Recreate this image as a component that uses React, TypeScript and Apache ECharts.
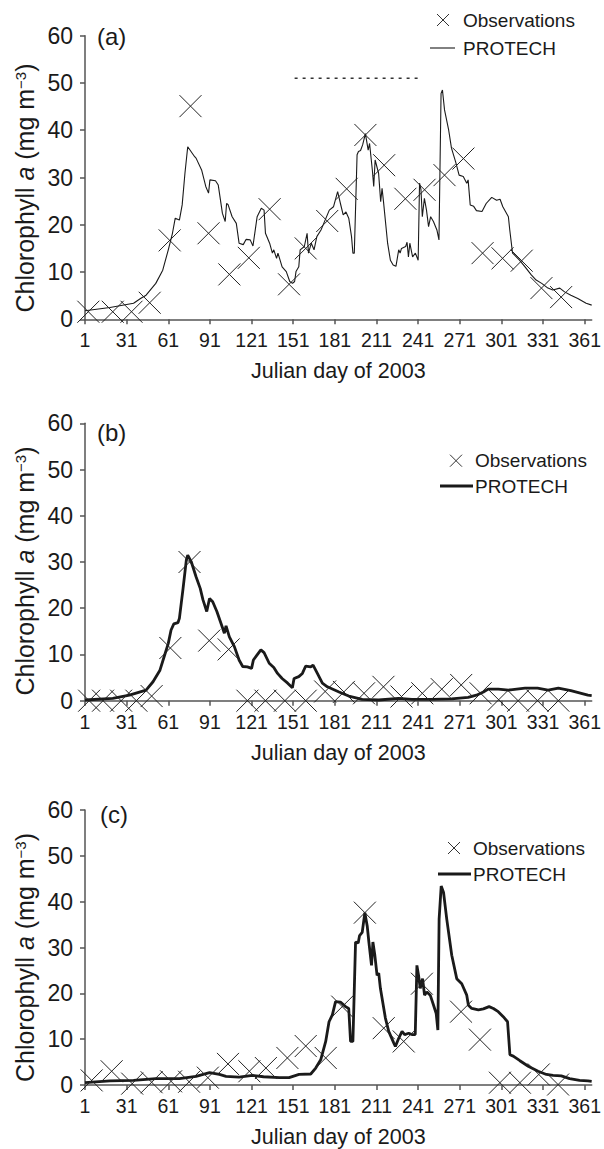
import React, { useEffect, useRef } from "react";
import * as echarts from "echarts";

const FONT = "'Liberation Sans', Arial, Helvetica, sans-serif";

const dayTicks = [1, 31, 61, 91, 121, 151, 181, 211, 241, 271, 301, 331, 361];
const panelLabels = ["(a)", "(b)", "(c)"];
const xTitle = "Julian day of 2003";
const legendObs = "Observations";
const legendModel = "PROTECH";

// Panel (a)
const modelA: [number, number][] = [
  [1, 1.8], [19, 2.5], [36, 3.4], [41, 4.4], [45, 5.1], [52, 7.6], [57, 10.4], [61, 14.7], [64, 18.2], [66, 21.4], [69, 21.0],
  [71, 24.2], [73, 30.9], [75, 36.5], [80, 34.4], [81, 34.1], [85, 31.6], [88, 28.1], [90, 26.7], [91, 29.5],
  [95, 29.3], [97, 28.4], [100, 22.4], [102, 20.7], [103, 24.5], [104, 24.3], [107, 21.7], [110, 20.3], [112, 16.1],
  [115, 15.8], [117, 16.9], [120, 16.8], [122, 15.5], [125, 21.7], [128, 23.5], [130, 23.1], [131, 18.2], [134, 16.1],
  [136, 14.0], [137, 14.7], [139, 12.9], [140, 14.0], [143, 11.1], [146, 10.1], [148.5, 8.0], [150.5, 7.6], [152, 8.0],
  [153, 10.1], [155, 11.1], [156, 14.7], [159, 15.4], [161, 18.2], [162, 14.0], [164, 16.1], [166, 14.7], [168, 17.5],
  [171, 18.9], [173, 20.3], [177, 23.1], [180, 23.8], [183, 27.0], [185, 24.5], [187, 22.1], [189, 22.7], [191, 21.4],
  [193, 17.5], [194, 14.0], [195, 14.0], [197, 34.8], [198, 35.5], [199.5, 35.7], [201, 36.9], [203, 39.3], [205, 35.8],
  [206, 37.2], [208, 31.6], [209, 28.1], [210, 33.7], [212.5, 30.9], [214, 24.9], [215, 27.7], [216, 25.0], [219, 16.1],
  [221, 12.5], [223, 11.5], [225, 11.2], [227, 14.7], [228, 14.0], [229, 15.0], [232, 15.4], [233, 16.3], [234, 13.2],
  [235, 16.1], [237, 13.2], [239, 14.0], [241, 12.5], [242, 28.8], [243, 27.5], [244, 21.7], [245.5, 25.6], [247, 23.1],
  [248.5, 19.6], [250, 21.7], [252, 20.7], [254.5, 18.9], [256, 16.8], [257.5, 47.8], [258.5, 48.5], [260, 44.3],
  [263, 40.0], [265, 36.2], [268, 33.3], [270.5, 30.5], [273.5, 30.2], [276, 28.8], [277, 29.5], [278.5, 24.2],
  [281, 23.9], [283, 23.0], [287, 22.8], [290, 24.5], [294, 25.8], [297.5, 25.2], [300, 25.4], [302, 23.8], [306, 21.7],
  [307, 18.9], [309, 14.0], [310.5, 13.6], [314, 12.5], [318, 11.1], [322.5, 9.4], [326, 8.3], [330, 7.6], [334.5, 6.6],
  [338, 6.2], [343, 6.6], [346.5, 5.8], [351, 5.1], [356, 4.4], [362, 3.4], [366, 3.0],
];
const obsA: [number, number][] = [
  [3.4, 1.6], [21, 1.6], [34.5, 1.6], [47.6, 3.5], [62, 16.7], [77, 45.1], [90, 18.2], [105, 9.5], [119, 13.0],
  [134, 23.3], [148, 7.4], [160, 15.0], [175.5, 20.8], [189.5, 27.6], [203, 39.0], [216.5, 32.6], [231.8, 25.5],
  [245.6, 27.4], [260, 30.5], [273.6, 34.0], [287.4, 14.0], [301.8, 12.9], [315.6, 12.4], [329.8, 6.6], [344, 4.7],
];
const dashedDaysA = [152, 243];
const dashedLevelA = 51;

// Panel (b)
const modelB: [number, number][] = [
  [1, 0.15], [21, 0.5], [33, 1.2], [45, 2.3], [50, 4.1], [55, 6.6], [58, 9.5], [61, 12.4], [63, 15.3], [65, 16.6],
  [68, 16.9], [69, 17.8], [71.5, 23.9], [74, 30.4], [75, 31.5], [77.5, 30.1], [81, 26.8], [84, 24.3], [86, 21.8],
  [88.7, 19.3], [90.7, 22.1], [93, 21.4], [96, 19.3], [99, 16.7], [101.4, 14.6], [102.6, 16.2], [105, 13.8],
  [108.6, 11.7], [112, 8.8], [114.6, 7.4], [118, 7.3], [121, 7.0], [122.3, 8.8], [125, 9.9], [127.7, 11.0], [130, 10.4],
  [133.7, 8.1], [137, 7.2], [139.7, 5.9], [143, 4.8], [147, 3.8], [150.4, 2.8], [151.6, 4.8], [155, 5.2], [157.6, 5.9],
  [160, 7.5], [163.6, 7.3], [165.3, 7.7], [168.4, 5.9], [172, 3.8], [175.6, 3.0], [184, 1.9], [191, 1.0], [200.7, 0.3],
  [212.6, 0.15], [227, 0.5], [236.5, 0.3], [251, 0.3], [265, 0.4], [277, 0.7], [283, 1.2], [288, 1.9], [291.5, 2.5],
  [298.7, 2.5], [306, 2.3], [318, 2.7], [327, 2.7], [334.6, 2.3], [342, 2.7], [351, 2.2], [358.5, 1.6], [363.3, 1.2],
  [366, 1.1],
];
const obsB: [number, number][] = [
  [4, 0], [14, 0], [27, 0], [38, 0], [49, 1.0], [62.5, 11.4], [76.3, 30.0], [90.5, 13.0], [104.5, 11.1], [118, 0],
  [131, 0], [145, 0], [160, 0], [174, 2.0], [187.5, 1.9], [202, 1.6], [216, 3.0], [229, 0.9], [244, 1.6], [258, 2.5],
  [272, 3.4], [286, 1.6], [299, 0.2], [313, 0], [327, 0], [342, 0],
];

// Panel (c)
const modelC: [number, number][] = [
  [1, 0.5], [19, 0.9], [36, 1.0], [52, 1.4], [69, 1.4], [81, 1.9], [90.7, 2.7], [97.8, 2.3], [102.6, 1.9], [112, 1.7],
  [121.7, 2.1], [129.6, 1.8], [141, 1.6], [148, 1.6], [153, 2.1], [155.2, 2.3], [163.6, 2.4], [167.2, 3.7], [170.8, 5.5],
  [174.4, 9.5], [176.8, 13.8], [179.2, 15.3], [181.5, 18.2], [185, 18.1], [188.7, 17.1], [191, 16.7], [192.3, 9.5],
  [194, 9.5], [195.9, 31.2], [197.8, 31.0], [198.8, 32.6], [200.7, 33.3], [202.6, 37.6], [204.3, 34.7], [205.5, 31.2],
  [207.4, 26.1], [208.4, 31.2], [209.8, 28.3], [211.4, 23.9], [212.6, 24.4], [213.8, 21.1], [217.4, 14.6], [219.8, 11.7],
  [223.4, 9.2], [224.6, 8.4], [227, 10.2], [229.4, 11.7], [231.3, 11.0], [234.2, 11.3], [236.5, 11.0], [238.9, 11.0],
  [240.1, 26.1], [241.3, 23.9], [242.5, 21.1], [244.2, 23.2], [245.6, 19.6], [247.3, 20.3], [249.7, 19.6], [252.1, 17.4],
  [254, 15.6], [255.2, 12.0], [256.1, 36.2], [257.6, 43.4], [259.3, 42.0], [261.6, 36.2], [265.2, 28.3], [268.8, 23.2],
  [272.4, 22.1], [276, 19.6], [277.2, 17.4], [279.6, 16.7], [284.4, 16.4], [288, 16.6], [292.1, 17.1], [295.2, 16.7],
  [298.7, 16.0], [302.3, 14.9], [305.4, 13.8], [307.1, 6.6], [309.5, 6.3], [314.3, 5.3], [320.3, 4.1], [327.4, 3.0],
  [333.4, 2.3], [338.2, 2.1], [344.1, 2.0], [350.1, 1.4], [357.3, 1.0], [363.3, 0.9], [366, 0.8],
];
const obsC: [number, number][] = [
  [5.8, 1.0], [20.2, 3.0], [35, 0.3], [49, 0.6], [63, 0.8], [76, 0.7], [89.5, 1.6], [104, 4.6], [119.4, 3.0],
  [131.3, 3.7], [146.8, 5.9], [160, 8.5], [174.4, 5.9], [186.3, 17.1], [202.6, 37.6], [216.2, 12.4], [230.6, 9.5],
  [243.7, 22.1], [271.9, 16.0], [285.5, 9.9], [299.9, 0.5], [314.3, 0.5], [327.9, 2.3], [341.8, 0.1],
];

const panels = [
  { model: modelA, obs: obsA, top: 35.7, height: 283.6, lineWidth: 1.1, label: { x: 97, y: 38 },
    legend: { obsY: 20, modelY: 48, textX: 463, crossX: 443, lineX0: 430, lineX1: 455 }, yLabelY: 188 },
  { model: modelB, obs: obsB, top: 423.3, height: 277.4, lineWidth: 2.8, label: { x: 97, y: 434.5 },
    legend: { obsY: 460.7, modelY: 486, textX: 475, crossX: 456, lineX0: 440, lineX1: 473 }, yLabelY: 571 },
  { model: modelC, obs: obsC, top: 810, height: 277.3, lineWidth: 2.8, label: { x: 100, y: 816.7 },
    legend: { obsY: 848, modelY: 874, textX: 473, crossX: 454, lineX0: 438, lineX1: 471 }, yLabelY: 957.5 },
];

const INK = "#1a1a1a";
const AXIS = "#555";
const CROSS = "path://M0,0L10,10M10,0L0,10";

export default function App() {
  const ref = useRef<HTMLDivElement>(null);
  useEffect(() => {
    document.body.style.margin = "0";
    if (!ref.current) return;
    const chart = echarts.init(ref.current, undefined, { renderer: "svg" });

    const grids: any[] = [];
    const xAxes: any[] = [];
    const yAxes: any[] = [];
    const series: any[] = [];
    const graphics: any[] = [];

    panels.forEach((p, i) => {
      grids.push({ left: 85, right: 10, top: p.top, height: p.height, containLabel: false });
      xAxes.push({
        type: "value", gridIndex: i, min: 1, max: 366,
        axisLine: { show: true, lineStyle: { color: AXIS, width: 1.5 } },
        axisTick: { show: true, length: 5, customValues: dayTicks, lineStyle: { color: AXIS, width: 1.5 } },
        axisLabel: { customValues: dayTicks, fontSize: 19.5, color: INK, margin: 11, fontFamily: FONT },
        splitLine: { show: false },
        name: xTitle, nameLocation: "middle", nameGap: 41,
        nameTextStyle: { fontSize: 21.5, color: INK, fontFamily: FONT },
      });
      yAxes.push({
        type: "value", gridIndex: i, min: 0, max: 60, interval: 10,
        axisLine: { show: true, lineStyle: { color: AXIS, width: 1.5 } },
        axisTick: { show: true, length: 5, lineStyle: { color: AXIS, width: 1.5 } },
        axisLabel: { fontSize: 23, color: INK, margin: 12, fontFamily: FONT },
        splitLine: { show: false },
      });
      series.push({
        type: "line", xAxisIndex: i, yAxisIndex: i, data: p.model, showSymbol: false, symbol: "none",
        lineStyle: { color: INK, width: p.lineWidth }, z: 3,
      });
      series.push({
        type: "scatter", xAxisIndex: i, yAxisIndex: i, data: p.obs, symbol: CROSS, symbolSize: 22, clip: false,
        itemStyle: { color: "none", borderColor: "#222", borderWidth: 1, opacity: 1 }, z: 4,
      });
      if (i === 0) {
        series.push({
          type: "line", xAxisIndex: 0, yAxisIndex: 0, symbol: "none",
          data: dashedDaysA.map((d) => [d, dashedLevelA]),
          lineStyle: { color: "#333", width: 1.5, type: [3, 5] },
        });
      }
      graphics.push({
        type: "text", left: p.label.x, top: p.label.y - 14,
        style: { text: panelLabels[i], fontSize: 24, fill: INK, fontFamily: FONT },
      });
      graphics.push({
        type: "text", x: 25, y: p.yLabelY, rotation: Math.PI / 2,
        style: {
          text: "{n|Chlorophyll }{i|a}{n| (mg m}{s|−3}{n|)}",
          align: "center", verticalAlign: "middle", fill: INK,
          rich: {
            n: { fontSize: 25, fontFamily: FONT, fill: INK },
            i: { fontSize: 25, fontFamily: FONT, fontStyle: "italic", fill: INK },
            s: { fontSize: 15, fontFamily: FONT, fill: INK, verticalAlign: "top", padding: [0, 0, 9, 0] },
          },
        },
      });
      const L = p.legend;
      graphics.push({
        type: "line", shape: { x1: L.crossX - 6, y1: L.obsY - 6, x2: L.crossX + 6, y2: L.obsY + 6 },
        style: { stroke: "#333", lineWidth: 1 },
      });
      graphics.push({
        type: "line", shape: { x1: L.crossX - 6, y1: L.obsY + 6, x2: L.crossX + 6, y2: L.obsY - 6 },
        style: { stroke: "#333", lineWidth: 1 },
      });
      graphics.push({
        type: "text", x: L.textX, y: L.obsY,
        style: { text: legendObs, fontSize: 19, fill: INK, fontFamily: FONT, verticalAlign: "middle" },
      });
      graphics.push({
        type: "line", shape: { x1: L.lineX0, y1: L.modelY, x2: L.lineX1, y2: L.modelY },
        style: { stroke: INK, lineWidth: p.lineWidth },
      });
      graphics.push({
        type: "text", x: L.textX, y: L.modelY,
        style: { text: legendModel, fontSize: 19, fill: INK, fontFamily: FONT, verticalAlign: "middle" },
      });
    });

    chart.setOption({
      animation: false,
      backgroundColor: "#ffffff",
      textStyle: { fontFamily: FONT },
      grid: grids,
      xAxis: xAxes,
      yAxis: yAxes,
      series,
      graphic: graphics,
    });
    return () => chart.dispose();
  }, []);
  return <div ref={ref} style={{ width: 604, height: 1149 }} />;
}
